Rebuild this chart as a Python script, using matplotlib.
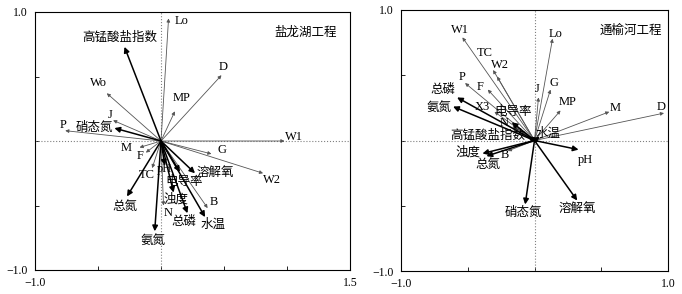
import matplotlib
matplotlib.use('Agg')
import matplotlib.pyplot as plt

plt.rcParams['font.family'] = ['Liberation Serif', 'Noto Sans CJK SC']

# 盐龙湖工程 - environmental variables (thick arrows)
yl_env = ['高锰酸盐指数', '硝态氮', 'pH', '电导率', '溶解氧', '总氮', '浊度', '总磷', '水温', '氨氮']
yl_env_x = [-0.29, -0.37, 0.03, 0.15, 0.27, -0.27, 0.10, 0.21, 0.35, -0.05]
yl_env_y = [0.73, 0.10, -0.19, -0.24, -0.25, -0.43, -0.40, -0.56, -0.59, -0.70]
# 盐龙湖工程 - species (thin arrows)
yl_sp = ['Lo', 'D', 'Wo', 'MP', 'J', 'P', 'W1', 'M', 'F', 'G', 'W2', 'TC', 'N', 'B']
yl_sp_x = [0.06, 0.48, -0.43, 0.11, -0.38, -0.76, 0.98, -0.17, -0.12, 0.40, 0.81, -0.07, 0.02, 0.37]
yl_sp_y = [0.95, 0.51, 0.37, 0.23, 0.16, 0.08, 0.0, -0.05, -0.09, -0.10, -0.25, -0.21, -0.50, -0.52]

# 通榆河工程
ty_env = ['总磷', '氨氮', '电导率', '高锰酸盐指数', '水温', '浊度', '总氮', 'pH', '硝态氮', '溶解氧']
ty_env_x = [-0.58, -0.61, -0.17, -0.05, 0.04, -0.39, -0.36, 0.33, -0.07, 0.32]
ty_env_y = [0.33, 0.26, 0.14, 0.03, 0.03, -0.10, -0.12, -0.07, -0.49, -0.46]
ty_sp = ['W1', 'TC', 'W2', 'Lo', 'P', 'F', 'J', 'G', 'MP', 'M', 'D', 'X3', 'N', 'B']
ty_sp_x = [-0.54, -0.31, -0.28, 0.135, -0.52, -0.35, 0.03, 0.12, 0.195, 0.56, 0.97, -0.30, -0.165, -0.20]
ty_sp_y = [0.79, 0.54, 0.49, 0.78, 0.44, 0.39, 0.33, 0.39, 0.23, 0.22, 0.21, 0.22, 0.11, -0.08]

# label offsets from arrow tip, in pixels
yl_off = {'Lo': (13, -3), '高锰酸盐指数': (-5, 9), 'D': (2, 8), 'Wo': (-8, 10), 'MP': (7, 13),
          'J': (-3, 5), 'P': (-2, 6), '硝态氮': (-20, 0), 'W1': (10, 4), 'M': (-13, -1),
          'F': (-6, -3), 'G': (11, 4), 'W2': (9, -7), 'TC': (-5, -7), 'pH': (0, -3),
          '电导率': (4, -10), '溶解氧': (20, 0), '总氮': (-2, -10), '浊度': (2, -7),
          'N': (5, -7), '总磷': (-4, -9), 'B': (6, 6), '水温': (8, -8), '氨氮': (-2, -10)}
ty_off = {'总磷': (-14, 8), '氨氮': (-14, -1), '电导率': (1, 10), '高锰酸盐指数': (-40, 1),
          '水温': (8, 3), '浊度': (-14, 1), '总氮': (1, -9), 'pH': (7, -10), '硝态氮': (-2, -8),
          '溶解氧': (0, -8), 'W1': (-2, 7), 'TC': (-8, 17), 'W2': (3, 12), 'Lo': (3, 5),
          'P': (-3, 6), 'F': (-8, 3), 'J': (-1, 8), 'G': (3, 7), 'MP': (7, 8), 'M': (6, 4),
          'D': (-3, 6), 'X3': (-12, 5), 'N': (-8, 3), 'B': (-3, -4)}


def draw_arrows(ax, names, xs, ys, offs, thick):
    if thick:
        props = dict(arrowstyle='-|>', lw=1.1, color='black', mutation_scale=8,
                     shrinkA=0, shrinkB=0)
    else:
        props = dict(arrowstyle='-|>', lw=0.6, color='#555555', mutation_scale=5,
                     shrinkA=0, shrinkB=0)
    for n, x, y in zip(names, xs, ys):
        ax.annotate('', xy=(x, y), xytext=(0, 0), arrowprops=props)
        ax.annotate(n, xy=(x, y), xytext=offs[n], textcoords='offset pixels',
                    ha='center', va='center', fontsize=9)


def setup(ax, xmax, title):
    ax.set_xlim(-1.0, xmax)
    ax.set_ylim(-1.0, 1.0)
    ax.axhline(0, color='gray', ls=':', lw=0.8)
    ax.axvline(0, color='gray', ls=':', lw=0.8)
    xt = [-1.0, -0.5, 0, 0.5, 1.0] + ([1.5] if xmax > 1.2 else [])
    ax.set_xticks(xt)
    ax.set_xticklabels(['−1.0'] + [''] * (len(xt) - 2) + ['%.1f' % xmax])
    ax.set_yticks([-1.0, -0.5, 0, 0.5, 1.0])
    ax.set_yticklabels(['−1.0', '', '', '', '1.0'])
    ax.tick_params(direction='in', length=3, width=0.6, labelsize=8.5, pad=5)
    for s in ax.spines.values():
        s.set_linewidth(0.8)
    ax.text(0.86, 0.92, title, transform=ax.transAxes, ha='center', va='center', fontsize=9)


fig = plt.figure(figsize=(6.82, 2.94), dpi=100)
ax1 = fig.add_axes([35 / 682, 24 / 294, 315 / 682, 258 / 294])
ax2 = fig.add_axes([401 / 682, 23 / 294, 267 / 682, 261 / 294])

setup(ax1, 1.5, '盐龙湖工程')
draw_arrows(ax1, yl_sp, yl_sp_x, yl_sp_y, yl_off, False)
draw_arrows(ax1, yl_env, yl_env_x, yl_env_y, yl_off, True)

setup(ax2, 1.0, '通榆河工程')
draw_arrows(ax2, ty_sp, ty_sp_x, ty_sp_y, ty_off, False)
draw_arrows(ax2, ty_env, ty_env_x, ty_env_y, ty_off, True)

fig.savefig('out.png', dpi=100)
